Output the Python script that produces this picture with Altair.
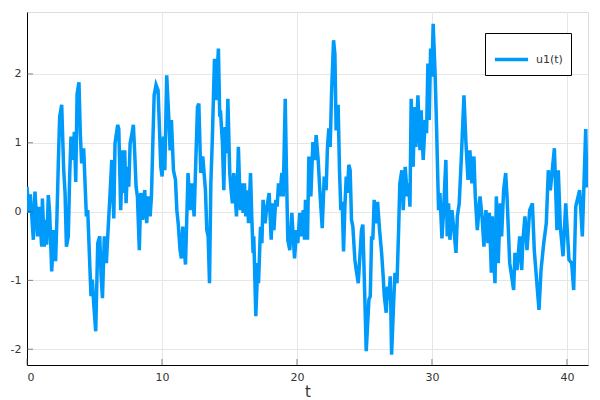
import altair as alt
import pandas as pd

# time values (t) and series values (u1)
t_vals = [
    0.00, 0.15, 0.25, 0.47, 0.59, 0.79, 0.89, 1.09, 1.14, 1.28, 1.38, 1.46, 1.53, 1.58, 1.68,
    1.83, 1.98, 2.12, 2.22, 2.32, 2.42, 2.57, 2.72, 2.82, 2.92, 3.06, 3.16, 3.26, 3.41, 3.51,
    3.61, 3.71, 3.85, 3.95, 4.05, 4.20, 4.30, 4.40, 4.50, 4.60, 4.74, 4.84, 4.94, 5.09, 5.24,
    5.39, 5.49, 5.59, 5.73, 5.88, 5.98, 6.13, 6.28, 6.43, 6.52, 6.72, 6.80,
    6.94, 7.09, 7.19, 7.24, 7.34, 7.44, 7.54, 7.64, 7.78, 7.88, 7.98, 8.08, 8.18, 8.32, 8.43,
    8.57, 8.72, 8.87, 8.97, 9.12, 9.22, 9.32, 9.42, 9.56, 9.71, 9.81, 9.91, 10.01, 10.11, 10.21,
    10.35, 10.50, 10.60, 10.70, 10.85, 11.00, 11.10, 11.20, 11.34, 11.44, 11.54, 11.74, 11.93,
    12.08, 12.23, 12.38, 12.53, 12.63, 12.73, 12.87, 13.02, 13.22, 13.32, 13.42, 13.52, 13.62,
    13.72,
    13.89, 13.99, 14.18, 14.28, 14.33, 14.48, 14.58, 14.68, 14.78, 14.88, 15.02, 15.12, 15.22,
    15.32, 15.52, 15.66, 15.81, 15.91, 16.01, 16.11, 16.21, 16.31, 16.41, 16.56, 16.65, 16.75,
    16.80, 16.95, 17.10, 17.15, 17.30, 17.40, 17.49, 17.64, 17.74, 17.94, 18.09, 18.19, 18.29,
    18.43, 18.53, 18.63, 18.73, 18.88, 18.98, 19.13, 19.22, 19.32, 19.47, 19.62, 19.82, 19.97,
    20.06, 20.21, 20.31, 20.46, 20.56,
    20.63, 20.78, 20.88, 21.03, 21.18, 21.32, 21.42, 21.57, 21.72, 21.87, 22.02, 22.16, 22.26,
    22.36, 22.46, 22.56, 22.71, 22.81, 22.90, 23.05, 23.15, 23.25, 23.35, 23.45, 23.55, 23.65,
    23.74, 23.84, 23.94, 24.04, 24.14, 24.29, 24.39, 24.54, 24.78, 24.88, 25.03, 25.13, 25.33,
    25.43, 25.53, 25.62, 25.72, 25.82, 25.97, 26.12, 26.27, 26.37, 26.47, 26.61, 26.71, 26.81,
    26.91, 27.01, 27.16, 27.26, 27.41, 27.53,
    27.62, 27.77, 27.87, 28.02, 28.17, 28.27, 28.37, 28.46, 28.61, 28.71, 28.81, 28.96, 29.11,
    29.20, 29.35, 29.50, 29.60, 29.70, 29.80, 29.90, 29.99, 30.09, 30.24, 30.34, 30.49, 30.59,
    30.74, 30.84, 31.03, 31.13, 31.23, 31.33, 31.48, 31.63, 31.78, 31.88, 32.02, 32.17, 32.37,
    32.52, 32.67, 32.81, 32.96, 33.11, 33.21, 33.36, 33.56, 33.71, 33.85, 34.00, 34.15, 34.25,
    34.40,
    34.47, 34.57, 34.67, 34.77, 34.91, 35.06, 35.16, 35.31, 35.46, 35.56, 35.76, 36.05, 36.15,
    36.30, 36.50, 36.65, 36.74, 36.89, 37.04, 37.24, 37.44, 37.58, 37.73, 37.93, 38.08, 38.28,
    38.47, 38.62, 38.77, 39.07, 39.26, 39.36, 39.51, 39.71, 39.91, 40.15, 40.35, 40.50, 40.65,
    40.94, 41.14, 41.39, 41.47, 41.56,
]
u_vals = [
    0.36, -0.02, 0.25, -0.41, 0.29, -0.36, 0.07, -0.51, 0.19, -0.51, -0.12, -0.48, -0.07, 0.24, -0.02,
    -0.87, -0.27, -0.72, -0.07, 0.70, 1.38, 1.55, 0.60, 0.27, -0.51, -0.36, 0.51, 1.09, 0.75, 1.16,
    0.43, 1.71, 1.88, 1.13, 0.70, 0.92, 0.41, -0.07, 0.02, -0.51, -1.23, -0.99, -1.33, -1.74, -0.46,
    -0.36, -0.94, -1.26, -0.36, -0.75, -0.36, 0.17, 0.75, -0.10, 0.99, 1.26, 1.20,
    0.02, 0.89, 0.27, 0.89, 0.12, 0.65, 0.36, 0.99, 1.14, 1.26, 0.85, 0.36, 0.22, -0.56, 0.27,
    -0.12, 0.31, -0.17, 0.22, -0.07, 0.22, 0.99, 1.69, 1.84, 1.76, 1.23, 0.65, 0.51, 1.09, 0.60,
    1.98, 1.38, 0.89, 1.33, 0.60, 0.46, 0.02, -0.17, -0.56, -0.68, -0.22, -0.77, 0.56,
    0.02, 0.41, -0.07, 0.89, 1.52, 1.57, 0.56, 0.80, 0.31, -0.27, -0.36, -1.04, 0.41,
    0.99,
    2.22, 1.62, 2.37, 1.38, 1.47, 0.99, 0.31, 1.23, 0.85, 1.64, 0.56, 0.31, 0.12,
    0.56, -0.07, 0.94, 0.02, 0.41, -0.02, 0.41, -0.07, 0.31, -0.17, 0.56, -0.07, -0.60,
    -0.36, -1.52, -0.75, -1.04, -0.22, -0.46, 0.17, -0.17, 0.02, 0.27, -0.41, 0.12, -0.27,
    0.17, 0.07, 0.41, 0.22, 0.56, 0.22, 1.64, 0.60, -0.41, -0.56, -0.02, -0.68, -0.27,
    -0.46, -0.02, -0.36, 0.02, -0.41,
    0.17, -0.41, 0.80, 0.22, 1.01, 0.75, 1.11, 0.75, 0.22, -0.24, 0.51, 0.31, 0.94,
    1.21, 0.94, 1.71, 2.49, 2.29, 1.18, 1.55, 0.60, 0.02, 0.14, -0.58, 0.07, 0.51,
    0.27, 0.68, 0.60, -0.12, -0.22, -0.70, -0.85, -1.04, -0.27, -0.19, -1.28, -2.03, -1.28,
    -1.23, -0.36, -0.41, 0.17, -0.17, 0.14, -0.27, -0.60, -0.89, -1.23, -1.47, -1.09, -1.28,
    -0.94, -2.08, -1.33, -0.89, -1.04, -0.27,
    0.41, 0.60, 0.02, 0.65, 0.22, 0.41, 0.07, 1.64, 0.65, 1.52, 0.94, 1.69, 0.89,
    1.47, 0.75, 1.33, 1.14, 2.15, 1.33, 2.37, 1.96, 2.73, 1.96, 1.23, 0.02, 0.27,
    -0.39, -0.07, 0.75, -0.36, 0.12, -0.41, 0.02, -0.27, -0.60, -0.07, 0.12, 0.75, 1.69,
    0.99, 0.46, 0.89, 0.41, 0.80, 0.22, -0.27, 0.22, -0.07, -0.51, 0.02, -0.46, -0.02,
    -0.89,
    -0.07, -0.65, -1.04, 0.22, -0.75, 0.12, -0.36, 0.31, 0.56, 0.22, -0.75, -1.14, -0.60,
    -0.85, -0.36, -0.85, -0.41, -0.07, -0.56, 0.02, 0.12, -0.56, -0.94, -1.43, -0.85, -0.46,
    -0.17, 0.60, 0.31, 0.92, -0.27, 0.60, -0.22, -0.65, 0.12, -0.70, -0.75, -1.14, 0.07,
    0.31, -0.36, 1.20, 0.35, 0.60,
]

x_ticks = [0, 10, 20, 30, 40]
y_ticks = [-2, -1, 0, 1, 2]
series_name = "u1(t)"

df = pd.DataFrame({"t": t_vals, "u": u_vals, "series": series_name})

W, H = 561, 353
x_dom = [0, 41.56]
y_dom = [-2.23, 2.90]

xs = alt.Scale(domain=x_dom, nice=False, zero=False)
ys = alt.Scale(domain=y_dom, nice=False, zero=False)

minus_fix = "replace(format(datum.value, 'd'), '\u2212', '-')"

line = alt.Chart(df).mark_line(strokeWidth=3.5, clip=True).encode(
    x=alt.X("t:Q", scale=xs, title="t",
            axis=alt.Axis(values=x_ticks, grid=True, gridColor="#e6e6e6", gridWidth=1,
                          domainColor="#000000", domainWidth=1, ticks=False,
                          labelPadding=6, labelFontSize=11, labelColor="#333333",
                          labelFont="DejaVu Sans", titleFont="DejaVu Sans",
                          titleFontSize=15, titleFontWeight="normal", titleColor="#333333",
                          titlePadding=2, labelExpr=minus_fix)),
    y=alt.Y("u:Q", scale=ys, title=None,
            axis=alt.Axis(values=y_ticks, grid=True, gridColor="#e6e6e6", gridWidth=1,
                          domainColor="#000000", domainWidth=1, ticks=False,
                          labelPadding=6, labelFontSize=11, labelColor="#333333",
                          labelFont="DejaVu Sans", labelExpr=minus_fix)),
    color=alt.Color("series:N", scale=alt.Scale(range=["#009AFA"]),
                    legend=alt.Legend(title=None, orient="none", legendX=458, legendY=21,
                                      strokeColor="#000000", fillColor="#ffffff",
                                      padding=8, symbolType="stroke", symbolSize=1100,
                                      symbolStrokeWidth=3.5, labelFontSize=11,
                                      labelFont="DejaVu Sans", labelColor="#333333",
                                      labelOffset=6, cornerRadius=0)),
)

yt = alt.Chart(pd.DataFrame({"v": y_ticks})).mark_tick(
    color="#555555", thickness=1, size=6).encode(
    y=alt.Y("v:Q", scale=ys), x=alt.value(3))
xt = alt.Chart(pd.DataFrame({"v": x_ticks})).mark_tick(
    color="#555555", thickness=1, size=6).encode(
    x=alt.X("v:Q", scale=xs), y=alt.value(H - 3))

chart = alt.layer(line, yt, xt).properties(
    width=W, height=H,
    padding={"left": 19, "top": 4, "right": 4, "bottom": 34},
    autosize=alt.AutoSizeParams(type="none"),
).configure_view(stroke=None).configure(background="white")

chart.save("out.html", embed_options={"renderer": "svg", "actions": False})
